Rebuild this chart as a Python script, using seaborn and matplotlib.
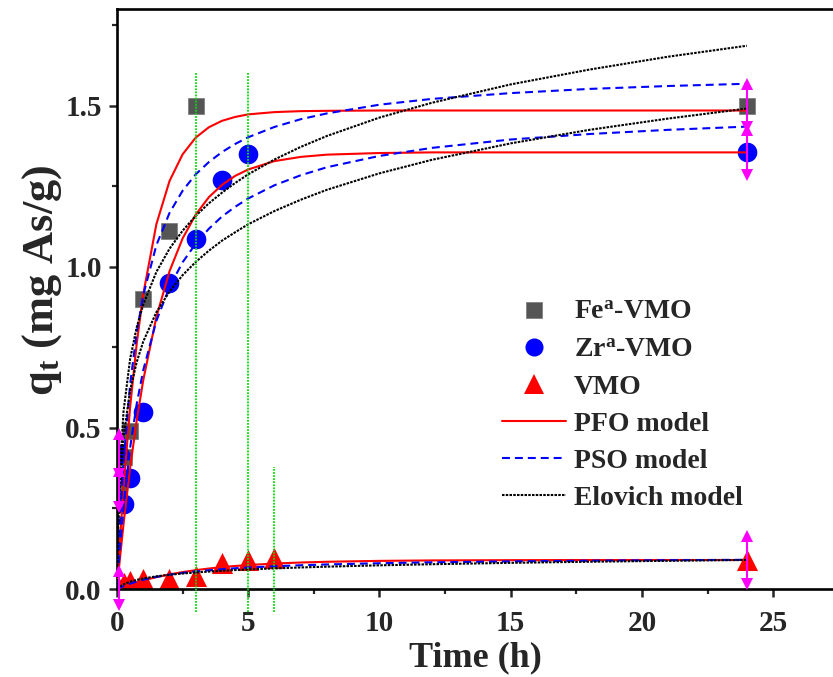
import matplotlib
matplotlib.use("Agg")
import matplotlib.pyplot as plt
import seaborn as sns
from matplotlib.lines import Line2D
from matplotlib.ticker import MultipleLocator, FormatStrFormatter

# ---------------- data ----------------
fe_t = [0.083, 0.25, 0.5, 1, 2, 3, 24]
fe_q = [0.31, 0.41, 0.49, 0.90, 1.11, 1.50, 1.50]

zr_t = [0.083, 0.25, 0.5, 1, 2, 3, 4, 5, 24]
zr_q = [0.42, 0.265, 0.345, 0.55, 0.95, 1.085, 1.27, 1.35, 1.355]

vmo_t = [0.083, 0.25, 0.5, 1, 2, 3, 4, 5, 6, 24]
vmo_q = [0.003, 0.02, 0.025, 0.03, 0.03, 0.04, 0.08, 0.09, 0.095, 0.09]

# error bars (first and last sampling time only)
fe_err = [0.055, 0.066]
zr_err = [0.062, 0.070]
vmo_err = [0.053, 0.075]

# model curves
model_t = [0, 0.02, 0.05, 0.1, 0.25, 0.5, 0.75, 1, 1.5, 2, 2.5, 3, 3.5, 4, 4.5, 5, 6, 7, 8,
           10, 12, 15, 18, 21, 24]
pfo_fe = [0, 0.028, 0.069, 0.136, 0.316, 0.565, 0.761, 0.915, 1.132, 1.266, 1.349, 1.401, 1.433,
          1.453, 1.465, 1.473, 1.480, 1.483, 1.484, 1.485, 1.485, 1.485, 1.485, 1.485, 1.485]
pfo_zr = [0, 0.0175, 0.043, 0.085, 0.203, 0.376, 0.523, 0.648, 0.844, 0.986, 1.088, 1.162, 1.216,
          1.254, 1.282, 1.302, 1.328, 1.341, 1.348, 1.353, 1.355, 1.355, 1.355, 1.355, 1.355]
pfo_vmo = [0, 0.0006, 0.0016, 0.0031, 0.0075, 0.0144, 0.0208, 0.0266, 0.0368, 0.0453, 0.0525,
           0.0585, 0.0636, 0.0678, 0.0714, 0.0744, 0.0790, 0.0822, 0.0845, 0.0873, 0.0887,
           0.0895, 0.0899, 0.0900, 0.0900]
pso_fe = [0, 0.0407, 0.098, 0.185, 0.395, 0.635, 0.796, 0.912, 1.067, 1.167, 1.236, 1.287, 1.325,
          1.356, 1.381, 1.402, 1.434, 1.458, 1.476, 1.503, 1.521, 1.539, 1.552, 1.561, 1.568]
pso_zr = [0, 0.0243, 0.059, 0.114, 0.257, 0.438, 0.574, 0.679, 0.832, 0.937, 1.014, 1.072, 1.118,
          1.156, 1.186, 1.212, 1.253, 1.284, 1.309, 1.344, 1.369, 1.395, 1.412, 1.425, 1.435]
pso_vmo = [0, 0.0008, 0.0020, 0.0038, 0.0091, 0.0167, 0.0231, 0.0286, 0.0375, 0.0444, 0.0500,
           0.0545, 0.0583, 0.0615, 0.0643, 0.0667, 0.0706, 0.0737, 0.0762, 0.0800, 0.0828,
           0.0857, 0.0878, 0.0894, 0.0906]
elo_fe = [0, 0.123, 0.238, 0.359, 0.552, 0.714, 0.812, 0.883, 0.984, 1.056, 1.112, 1.158, 1.197,
          1.230, 1.260, 1.287, 1.333, 1.372, 1.406, 1.463, 1.509, 1.566, 1.612, 1.652, 1.686]
elo_zr = [0, 0.100, 0.198, 0.302, 0.472, 0.617, 0.704, 0.768, 0.859, 0.923, 0.974, 1.015, 1.050,
          1.081, 1.107, 1.132, 1.173, 1.208, 1.239, 1.290, 1.332, 1.383, 1.425, 1.460, 1.491]
elo_vmo = [0, 0.0017, 0.0039, 0.0071, 0.0145, 0.0226, 0.0283, 0.0327, 0.0393, 0.0442, 0.0481,
           0.0513, 0.0541, 0.0565, 0.0587, 0.0606, 0.0640, 0.0668, 0.0693, 0.0735, 0.0769,
           0.0812, 0.0846, 0.0875, 0.0901]

# green guide lines
guide_t = [3, 5, 6]
guide_top = [1.60, 1.60, 0.38]
guide_bottom = -0.07

labels = ["Fe$^{a}$-VMO", "Zr$^{a}$-VMO", "VMO", "PFO model", "PSO model", "Elovich model"]

# ---------------- style ----------------
sns.set_style("ticks")
plt.rcParams["font.family"] = ["Liberation Serif", "DejaVu Serif"]
plt.rcParams["font.weight"] = "bold"
plt.rcParams["mathtext.fontset"] = "custom"
plt.rcParams["mathtext.rm"] = "Liberation Serif:bold"
plt.rcParams["mathtext.it"] = "Liberation Serif:bold"
plt.rcParams["mathtext.bf"] = "Liberation Serif:bold"
plt.rcParams["mathtext.default"] = "rm"

RED = "#FF0000"
BLUE = "#0000FF"
GRAY = "#555555"
MAG = "#FF00FF"
GREEN = "#00E000"
pso_ls = (0, (3.8, 2.4))
elo_ls = (0, (1.2, 0.6))

fig = plt.figure(figsize=(8.33, 6.77), dpi=100)
ax = fig.add_axes([117 / 833, 1 - 589 / 677, (833 - 117) / 833, (589 - 9) / 677])

# markers
sns.scatterplot(x=fe_t, y=fe_q, marker="s", s=140, color=GRAY, edgecolor="#777777",
                linewidth=0.5, zorder=2, ax=ax)
sns.scatterplot(x=zr_t, y=zr_q, marker="o", s=200, color=BLUE, edgecolor=BLUE,
                linewidth=0, zorder=2, ax=ax)
sns.scatterplot(x=vmo_t, y=vmo_q, marker="^", s=230, color=RED, edgecolor=RED,
                linewidth=0, zorder=2, ax=ax)

# model curves
for vals in (pfo_fe, pfo_zr, pfo_vmo):
    sns.lineplot(x=model_t, y=vals, color=RED, lw=1.5, sort=False, estimator=None,
                 zorder=3, ax=ax)
for vals in (pso_fe, pso_zr, pso_vmo):
    sns.lineplot(x=model_t, y=vals, color=BLUE, lw=1.5, linestyle=pso_ls, sort=False,
                 estimator=None, zorder=3, ax=ax)
for vals in (elo_fe, elo_zr, elo_vmo):
    sns.lineplot(x=model_t, y=vals, color="black", lw=1.5, linestyle=elo_ls, sort=False,
                 estimator=None, zorder=3, ax=ax)

# green dotted guide lines
for gt, gtop in zip(guide_t, guide_top):
    ax.plot([gt, gt], [guide_bottom, gtop], color=GREEN, lw=1.3, linestyle=(0, (1, 0.7)),
            zorder=4, clip_on=False)

# magenta error bars with arrow caps
for ts, qs, errs in ((fe_t, fe_q, fe_err), (zr_t, zr_q, zr_err), (vmo_t, vmo_q, vmo_err)):
    for idx, e in zip((0, -1), errs):
        t, q = ts[idx], qs[idx]
        ax.plot([t, t], [q - e, q + e], color=MAG, lw=1.5, zorder=5, clip_on=False)
        ax.plot([t], [q + e], marker="^", ms=8.5, color=MAG, mew=0, zorder=5, clip_on=False)
        ax.plot([t], [q - e], marker="v", ms=8.5, color=MAG, mew=0, zorder=5, clip_on=False)

# axes
ax.set_xlim(0, 27.28)
ax.set_ylim(0, 1.8)
ax.xaxis.set_major_locator(MultipleLocator(5))
ax.xaxis.set_minor_locator(MultipleLocator(2.5))
ax.yaxis.set_major_locator(MultipleLocator(0.5))
ax.yaxis.set_minor_locator(MultipleLocator(0.25))
ax.yaxis.set_major_formatter(FormatStrFormatter("%.1f"))
ax.tick_params(which="major", direction="out", length=6, width=1.8, labelsize=21,
               top=False, right=False)
ax.tick_params(axis="y", which="major", pad=5)
ax.tick_params(axis="x", which="major", pad=9)
ax.tick_params(which="minor", direction="out", length=3.5, width=1.6, top=False, right=False)
for lab in ax.get_xticklabels() + ax.get_yticklabels():
    lab.set_fontweight("bold")
for side in ("left", "bottom", "top"):
    ax.spines[side].set_linewidth(1.9)
    ax.spines[side].set_color("black")
ax.spines["right"].set_visible(False)

ax.set_xlabel("Time (h)", fontsize=26, fontweight="bold", labelpad=3)
ax.set_ylabel("q$_{t}$ (mg As/g)", fontsize=32, fontweight="bold")
ax.yaxis.set_label_coords(-0.074, 0.533)

# legend
handles = [
    Line2D([], [], ls="none", marker="s", ms=11.5, color=GRAY, mec="#777777", mew=0.5),
    Line2D([], [], ls="none", marker="o", ms=13, color=BLUE, mew=0),
    Line2D([], [], ls="none", marker="^", ms=15, color=RED, mew=0),
    Line2D([], [], color=RED, lw=1.5),
    Line2D([], [], color=BLUE, lw=1.5, ls=pso_ls),
    Line2D([], [], color="black", lw=1.5, ls=elo_ls),
]
leg = ax.legend(handles, labels, loc="upper left", bbox_to_anchor=(502 / 833, 1 - 300 / 677),
                bbox_transform=fig.transFigure, frameon=False,
                handlelength=2.3, handletextpad=0.3, labelspacing=0.42, borderpad=0,
                borderaxespad=0, prop={"weight": "bold", "size": 20})

fig.savefig("out.png", dpi=100)
